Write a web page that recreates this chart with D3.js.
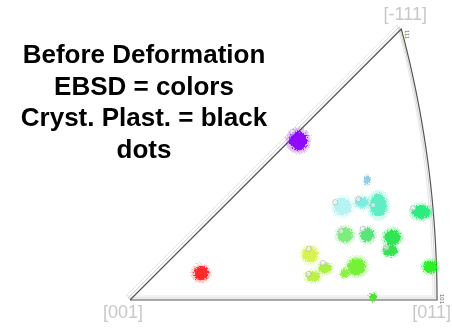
<!DOCTYPE html>
<html><head><meta charset="utf-8">
<script src="https://cdn.jsdelivr.net/npm/d3@7"></script>
<style>html,body{margin:0;padding:0;background:#fff;}svg{display:block;}</style>
</head><body>
<svg id="c" width="452" height="329"></svg>
<script>
// Inverse pole figure corners (stereographic coordinates)
const poleLabels = ["[001]", "[011]", "[-111]"];
const poleX = [0, 0.4142, 0.366];
const poleY = [0, 0, 0.366];
// EBSD grain clusters (stereographic coords, spread in same units)
const clusterX  = [0.227, 0.096, 0.320, 0.287, 0.313, 0.335, 0.393, 0.290, 0.320, 0.354, 0.351, 0.243, 0.263, 0.247, 0.306, 0.290, 0.405, 0.328];
const clusterY  = [0.215, 0.036, 0.162, 0.126, 0.132, 0.128, 0.119, 0.088, 0.088, 0.085, 0.067, 0.061, 0.043, 0.032, 0.045, 0.036, 0.045, 0.004];
const clusterRx = [0.0125,0.0100,0.0040,0.0120,0.0090,0.0115,0.0125,0.0105,0.0095,0.0110,0.0095,0.0105,0.0090,0.0095,0.0120,0.0060,0.0095,0.0045];
const clusterRy = [0.0130,0.0095,0.0060,0.0120,0.0075,0.0155,0.0095,0.0100,0.0095,0.0100,0.0075,0.0105,0.0065,0.0075,0.0115,0.0060,0.0085,0.0050];
const clusterColor = ["#8c00ff","#ff2222","#8ccbe8","#b4f2f2","#78ecdf","#58ecc4","#22ec78","#78ec78","#52e474","#26e44c","#2ae44a","#d6f24a","#a8f03c","#b6f040","#70f030","#88f040","#22f022","#44e422"];
// Crystal-plasticity predictions (black dots drawn as open markers)
const dotX = [0.277, 0.308, 0.328, 0.382, 0.285, 0.314, 0.346, 0.241, 0.260, 0.241, 0.219];
const dotY = [0.132, 0.136, 0.128, 0.124, 0.093, 0.096, 0.071, 0.069, 0.050, 0.035, 0.227];
const titleLines = ["Before Deformation", "EBSD = colors", "Cryst. Plast. = black", "dots"];

const svg = d3.select("#c");
const x = d3.scaleLinear().domain([0, 0.4142]).range([130, 437]);
const y = d3.scaleLinear().domain([0, 0.366]).range([300, 29]);

const defs = svg.append("defs");
const f = defs.append("filter").attr("id","fuzz").attr("x","-50%").attr("y","-50%").attr("width","200%").attr("height","200%");
f.append("feTurbulence").attr("type","fractalNoise").attr("baseFrequency","0.9").attr("numOctaves","2").attr("seed","3").attr("result","n");
f.append("feDisplacementMap").attr("in","SourceGraphic").attr("in2","n").attr("scale","6").attr("xChannelSelector","R").attr("yChannelSelector","G");

// boundary path: [001] -> [011] along x axis, arc to [-111], straight back
const R = Math.SQRT2, cx = -1;
const arcPts = d3.range(0, 1.0001, 0.02).map(t => {
  const a1 = Math.atan2(poleY[2], poleX[2] - cx);
  const a = a1 * t;
  return [cx + R * Math.cos(a), R * Math.sin(a)];
});
const pts = [[poleX[0], poleY[0]], [poleX[1], poleY[1]], ...arcPts, [poleX[0], poleY[0]]];
const line = d3.line().x(d => x(d[0])).y(d => y(d[1]));

[[4, "#e6e6e6"], [2, "#d2d2d2"]].forEach(([o, c]) => {
  svg.append("path").attr("d", line(pts)).attr("fill","none").attr("stroke", c).attr("stroke-width", 1)
    .attr("transform", `translate(${-o},${-o})`);
});
svg.append("path").attr("d", line(pts)).attr("fill","none").attr("stroke","#555").attr("stroke-width",1.2);

// clusters: faint halo + dense core
const g = svg.append("g").attr("filter","url(#fuzz)");
clusterX.forEach((cxv, i) => {
  g.append("ellipse").attr("cx", x(cxv)).attr("cy", y(clusterY[i]))
    .attr("rx", (x(clusterRx[i]) - x(0)) * 1.35).attr("ry", (y(0) - y(clusterRy[i])) * 1.35)
    .attr("fill", clusterColor[i]).attr("opacity", 0.25);
  g.append("ellipse").attr("cx", x(cxv)).attr("cy", y(clusterY[i]))
    .attr("rx", x(clusterRx[i]) - x(0)).attr("ry", y(0) - y(clusterRy[i]))
    .attr("fill", clusterColor[i]).attr("opacity", 0.95);
});
// dots
dotX.forEach((dx, i) => {
  svg.append("circle").attr("cx", x(dx)).attr("cy", y(dotY[i])).attr("r", 2.6)
    .attr("fill","#fff").attr("fill-opacity",0.5).attr("stroke","#a8a8a8").attr("stroke-width",0.6);
});

// tiny corner labels
svg.append("text").attr("x", x(poleX[2]) + 4).attr("y", y(poleY[2]) + 1).attr("font-size", 6)
  .attr("font-family","Liberation Sans, Arial").attr("fill","#666")
  .attr("transform", `rotate(90,${x(poleX[2]) + 4},${y(poleY[2]) + 1})`).text("111");
svg.append("text").attr("x", x(poleX[1]) + 3).attr("y", y(poleY[1]) - 6).attr("font-size", 6)
  .attr("font-family","Liberation Sans, Arial").attr("fill","#666")
  .attr("transform", `rotate(90,${x(poleX[1]) + 3},${y(poleY[1]) - 6})`).text("101");

// pole labels
const lab = svg.append("g").attr("font-family","Liberation Sans, Arial").attr("font-size",18).attr("fill","#c8c8c8");
lab.append("text").attr("x", x(poleX[0]) - 7).attr("y", 318).attr("text-anchor","middle").text(poleLabels[0]);
lab.append("text").attr("x", 451).attr("y", 318).attr("text-anchor","end").text(poleLabels[1]);
lab.append("text").attr("x", x(poleX[2]) + 4).attr("y", 20).attr("text-anchor","middle").text(poleLabels[2]);

// title
const t = svg.append("g").attr("font-family","Liberation Sans, Arial").attr("font-weight","bold").attr("font-size",26).attr("fill","#000");
titleLines.forEach((s, i) => {
  t.append("text").attr("x", 144).attr("y", 63 + i * 31.7).attr("text-anchor","middle").text(s);
});
</script>
</body></html>
